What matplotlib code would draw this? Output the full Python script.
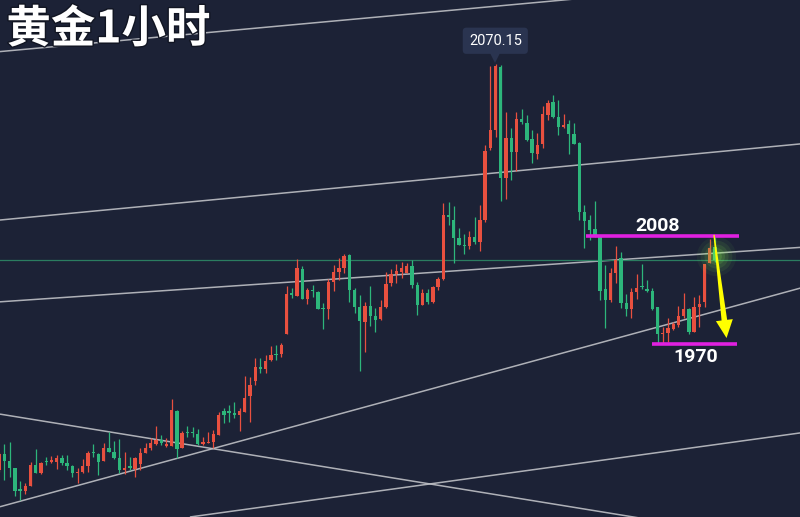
import matplotlib
matplotlib.use("Agg")
import matplotlib.pyplot as plt
import numpy as np
from matplotlib.patches import Polygon
import matplotlib.patheffects as pe

# ---- data: 1-hour gold candles (price) ----
opens = [1925.8,1931.4,1928.9,1926.5,1919.1,1918.4,1920.2,1927.5,1924.7,1928.9,
         1928.6,1928.6,1930.0,1928.2,1927.2,1924.7,1925.1,1927.2,1932.1,1931.4,
         1928.9,1933.5,1932.1,1930.0,1925.8,1927.2,1926.1,1927.9,1931.7,1933.5,
         1934.9,1936.3,1934.2,1934.2,1946.5,1933.5,1939.1,1939.1,1938.4,1934.9,
         1935.3,1935.6,1938.1,1946.5,1946.5,1945.8,1945.1,1946.1,1951.7,1957.0,
         1961.9,1961.2,1964.4,1966.5,1966.5,1973.5,1987.9,1986.8,1996.3,1985.8,
         1988.9,1988.2,1982.6,1982.3,1991.8,1995.3,1996.7,2001.2,1988.9,1983.0,
         1977.7,1983.3,1979.8,1978.8,1983.0,1991.4,1994.6,1995.3,1994.9,1997.4,
         1990.7,1983.7,1987.9,1984.7,1990.0,1992.8,2015.3,2013.5,2007.2,2004.7,
         2004.4,2007.5,2005.8,2013.5,2038.8,2045.1,2067.2,2028.2,2042.3,2037.4,
         2048.9,2047.5,2041.9,2036.7,2040.2,2050.3,2054.9,2049.6,2046.1,2047.2,
         2043.7,2040.5,2016.3,2013.5,2010.3,2007.5,1989.3,1985.4,1994.9,2000.2,
         1984.4,1982.3,1988.2,1990.4,1989.3,1988.6,1983.0,1973.5,1973.9,1975.3,
         1976.7,1979.8,1982.3,1974.2,1983.0,1984.7,1998.4,2004.0]
highs = [1932.1,1934.9,1935.6,1926.5,1921.9,1921.2,1928.6,1933.2,1928.6,1930.4,
         1930.7,1931.0,1931.0,1931.0,1927.5,1926.5,1929.6,1932.5,1934.9,1931.7,
         1935.3,1939.1,1936.0,1936.7,1932.1,1930.4,1930.4,1933.5,1935.3,1937.0,
         1941.2,1938.1,1937.0,1950.7,1946.8,1939.5,1941.2,1940.9,1940.2,1937.4,
         1939.1,1939.8,1946.1,1947.5,1948.6,1949.6,1947.5,1958.8,1958.4,1965.1,
         1965.1,1966.1,1969.3,1969.6,1970.4,1990.4,1989.7,1999.8,1997.4,1989.7,
         1990.7,1988.6,1984.4,1992.8,1997.7,2000.2,2001.6,2001.6,1989.7,1987.2,
         1984.7,1990.4,1982.6,1985.4,1995.3,1996.3,1998.1,1998.8,1998.4,1999.5,
         1991.8,1989.3,1989.3,1990.4,1993.5,2019.5,2019.8,2018.4,2010.7,2008.6,
         2009.6,2014.6,2018.8,2039.8,2067.5,2068.2,2067.9,2051.4,2045.8,2051.4,
         2052.5,2050.3,2045.1,2044.0,2053.5,2055.6,2057.4,2055.6,2050.7,2048.6,
         2047.5,2040.9,2018.8,2015.3,2020.2,2007.5,1997.7,1996.7,2004.4,2002.3,
         1987.5,1989.7,1994.6,1998.1,1992.5,1989.7,1983.0,1976.0,1979.1,1977.7,
         1983.3,1987.9,1982.6,1986.5,1987.2,1998.1,2006.8,2008.2]
lows = [1925.1,1922.3,1923.3,1916.7,1915.3,1917.4,1920.2,1924.7,1924.5,1927.5,
        1928.2,1926.1,1927.5,1925.8,1923.3,1921.2,1924.7,1925.1,1930.4,1924.0,
        1928.9,1932.1,1929.6,1924.7,1924.4,1925.8,1923.3,1925.8,1931.7,1932.8,
        1934.6,1934.6,1933.9,1934.2,1930.0,1933.5,1937.4,1937.4,1934.6,1934.6,
        1935.3,1933.5,1938.1,1942.3,1942.6,1944.0,1939.5,1946.1,1942.6,1955.6,
        1959.8,1959.8,1964.0,1964.4,1965.4,1973.5,1986.1,1986.8,1985.8,1984.0,
        1986.5,1982.3,1975.3,1978.8,1988.6,1992.5,1994.9,1984.7,1980.9,1960.5,
        1967.2,1976.3,1974.2,1978.4,1982.6,1990.4,1991.4,1993.2,1994.9,1989.7,
        1980.2,1983.7,1984.0,1984.4,1988.9,1992.5,2011.8,1998.4,2004.7,2001.6,
        2003.3,2005.1,2002.6,2012.8,2038.1,2042.6,2020.2,2020.9,2027.5,2030.7,
        2047.2,2041.2,2033.5,2034.9,2038.8,2048.6,2049.3,2043.3,2045.8,2036.7,
        2040.2,2013.5,2003.7,2006.5,2007.5,1985.4,1975.6,1984.7,1991.4,1982.6,
        1979.8,1979.1,1985.8,1989.3,1988.2,1981.9,1970.4,1970.4,1970.7,1974.9,
        1976.0,1979.1,1973.5,1974.2,1976.0,1983.0,1998.4,1998.8]
closes = [1931.4,1928.9,1926.5,1918.4,1918.4,1920.2,1927.5,1924.7,1928.2,1928.6,
          1929.3,1930.0,1928.2,1927.2,1924.7,1925.1,1927.2,1931.7,1931.7,1928.6,
          1933.5,1932.1,1930.0,1925.8,1926.5,1926.5,1930.0,1931.7,1933.5,1935.3,
          1936.3,1935.3,1934.9,1946.8,1933.2,1938.8,1938.8,1938.8,1934.9,1935.6,
          1935.6,1938.4,1945.1,1945.1,1945.8,1945.1,1946.5,1951.0,1955.6,1961.9,
          1961.2,1964.0,1966.1,1966.1,1969.6,1987.5,1987.2,1996.7,1985.8,1988.9,
          1988.6,1982.3,1982.3,1991.8,1995.3,1996.7,2000.9,1988.9,1983.0,1978.1,
          1983.3,1979.8,1978.4,1983.0,1991.1,1994.6,1995.6,1996.7,1997.4,1990.7,
          1983.7,1987.9,1984.7,1990.0,1992.8,2015.3,2014.6,2007.2,2004.7,2004.4,
          2007.5,2005.8,2013.5,2037.7,2045.1,2067.5,2028.2,2042.3,2037.4,2048.9,
          2047.9,2041.6,2037.0,2039.8,2050.7,2054.6,2049.6,2046.1,2046.8,2043.7,
          2040.2,2016.3,2013.2,2010.0,2007.5,1988.6,1985.4,1994.9,1999.5,1984.4,
          1982.3,1988.2,1989.7,1990.0,1988.6,1982.3,1973.5,1973.9,1975.6,1977.0,
          1979.8,1982.3,1974.2,1983.0,1984.0,1998.1,2003.7,1999.5]

# drawn trend lines: ((index0, price0), (index1, price1))
trend_lines = [
    ((0.15, 2072.6), (153.3, 2098.3)),
    ((0.15, 2013.5), (153.3, 2040.2)),
    ((0.15, 1984.8), (153.3, 2003.9)),
    ((0.15, 1912.9), (153.3, 1989.6)),
    ((0.15, 1945.4), (153.3, 1899.8)),
    ((36.5, 1909.3), (153.3, 1938.8)),
]
last_price = 1999.5
resistance = 2008
support = 1970
res_span = (112.3, 141.6)
sup_span = (124.9, 141.2)
peak_idx = 95
peak_label = "2070.15"
title = "黄金1小时"
arrow_from = (136.8, 2008.3)
arrow_to = (139.2, 1972.1)

BG = "#1c2236"
UP = "#e8503f"
DOWN = "#2db67b"

fig = plt.figure(figsize=(8.0, 5.17), dpi=100)
fig.patch.set_facecolor(BG)
ax = fig.add_axes([0, 0, 1, 1])
ax.set_facecolor(BG)
ax.set_xlim(0.153, 153.26)
ax.set_ylim(1909.3, 2090.7)
ax.axis("off")

# trend lines
for (x0, y0), (x1, y1) in trend_lines:
    ax.plot([x0, x1], [y0, y1], color="#bfc1c6", lw=1.1, alpha=0.9, zorder=1,
            solid_capstyle="butt")

# last price line
ax.axhline(last_price, color="#2b7d60", lw=0.9, zorder=1)

# candles
o = np.array(opens); h = np.array(highs); l = np.array(lows); c = np.array(closes)
idx = np.arange(len(o))
cols = np.where(c >= o, UP, DOWN)
ax.vlines(idx, l, h, colors=cols, lw=0.9, zorder=3)
bottom = np.minimum(o, c)
height = np.maximum(np.abs(c - o), 0.4)
ax.bar(idx, height, bottom=bottom, width=0.64, color=cols, linewidth=0, zorder=4)

# glow around last candle
for s, a in [(800, 0.05), (520, 0.08), (300, 0.10), (150, 0.13), (60, 0.16)]:
    ax.scatter([137.1], [2001.0], s=s, color="#8cff50", alpha=a, linewidths=0, zorder=5)

# support / resistance
ax.plot(res_span, [resistance, resistance], color="#e020e0", lw=2.6, zorder=6,
        solid_capstyle="butt")
ax.plot(sup_span, [support, support], color="#e020e0", lw=2.6, zorder=6,
        solid_capstyle="butt")
ax.text(126.1, 2011.4, str(resistance), color="white", fontsize=14,
        fontweight="bold", family="Roboto", ha="center", va="center", zorder=7)
ax.text(133.3, 1965.3, str(support), color="white", fontsize=14,
        fontweight="bold", family="Roboto", ha="center", va="center", zorder=7)

# peak label
ax.text(peak_idx - 0.05, 2076.4, peak_label, color="white", fontsize=10.5,
        family="Roboto", ha="center", va="center", zorder=8,
        bbox=dict(boxstyle="round,pad=0.42,rounding_size=0.25", fc="#2a3450", ec="none"))
ax.plot([peak_idx - 0.05], [2070.6], marker="v", markersize=9, color="#2a3450",
        markeredgewidth=0, zorder=8)

# yellow arrow (tapered), built in display pixels
fig.canvas.draw()
p0 = ax.transData.transform(arrow_from)
p1 = ax.transData.transform(arrow_to)
d = (p1 - p0) / np.linalg.norm(p1 - p0)
n = np.array([-d[1], d[0]])
head_len, head_hw, tail_hw, neck_hw = 18, 8.5, 0.6, 2.8
neck = p1 - d * head_len
verts = [p0 + n * tail_hw, neck + n * neck_hw, neck + n * head_hw, p1,
         neck - n * head_hw, neck - n * neck_hw, p0 - n * tail_hw]
arrow = Polygon(verts, closed=True, transform=None, facecolor="#ffff00",
                edgecolor="none", zorder=9)
ax.add_artist(arrow)

# title
ax.text(0.008, 0.943, title, transform=ax.transAxes, color="white", fontsize=32,
        fontweight="bold", family=["Noto Sans CJK SC", "DejaVu Sans"],
        ha="left", va="center", zorder=10,
        path_effects=[pe.withStroke(linewidth=2, foreground="#111522")])

fig.savefig("out.png", dpi=100, facecolor=BG)
